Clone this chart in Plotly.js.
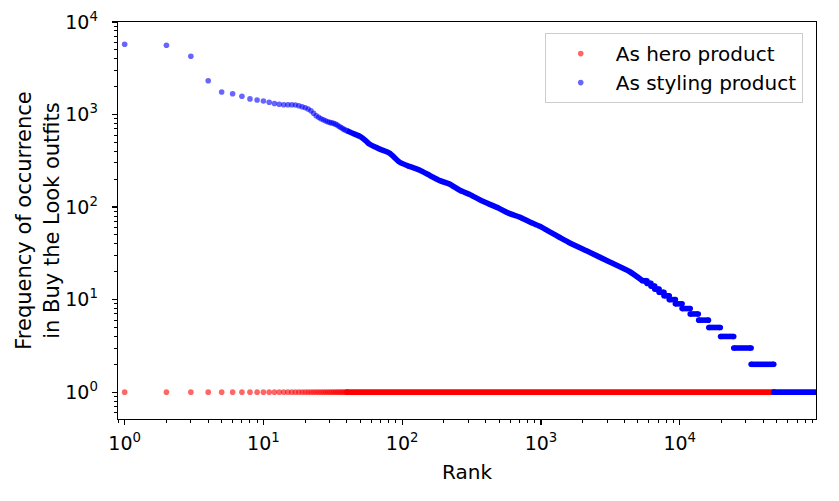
<!DOCTYPE html>
<html>
<head>
<meta charset="utf-8">
<script src="https://cdn.plot.ly/plotly-3.0.1.min.js"></script>
<style>html,body{margin:0;padding:0;background:#fff;}#chart{width:839px;height:501px;}</style>
</head>
<body>
<div id="chart"></div>
<script>
// ---- data ----
// As hero product: every product occurs once
const heroSparseRanks = [1,2,3,4,5,6,7,8,9,10,11,12,13,14,15,16,17,18,19,20,21,22,23,24,25,26,27,28,29,30,31,32,33,34,35,36,37,38,39,40];
const heroRunStart = 40;
const heroRunEnd = 47600;
const heroValue = 1;

// As styling product: first ranks (individually visible dots)
const styleSparseRanks = [1,2,3,4,5,6,7,8,9,10,11,12,13,14,15,16,17,18,19,20,21,22,23,24,25,26,27,28,29,30,31,32,33,34,35,36,37,38,39,40];
const styleSparseValues = [5750,5610,4270,2320,1755,1680,1575,1475,1435,1403,1356,1317,1290,1277,1277,1275,1268,1245,1215,1186,1149,1100,1031,971,933,901,879,858,836,823,812,803,787,770,748,727,709,691,680,668];

// As styling product: dense part of the curve
const styleCurveRanks = [40,43,46,50,55,58,69,81,96,113,134,158,187,220,260,307,362,428,505,596,703,831,981,1158,1367,1614,2240,3130,4370,5400];
const styleCurveValues = [668,636,611,578,517,480,423,383,305,275,250,220,193,177,152,137,120,107,96,85,78,69,62,54,47,41,32.5,25.5,20,16];

// As styling product: integer plateaus in the tail
const stepValues = [16,15,14,13,12,11,10,9,8,7,6,5,4,3,2,1];
const stepStart  = [5400,5800,6200,6600,7100,7700,8400,9300,10400,11900,13700,16200,19700,24500,32700,47600];
const stepEnd    = [5800,6200,6600,7100,7700,8400,9300,10400,11900,13600,16100,19600,24500,32700,47600,100000];

const xTickVals = [1,10,100,1000,10000];
const xTickText = ['10<sup>0</sup>','10<sup>1</sup>','10<sup>2</sup>','10<sup>3</sup>','10<sup>4</sup>'];
const yTickVals = [1,10,100,1000,10000];
const yTickText = ['10<sup>0</sup>','10<sup>1</sup>','10<sup>2</sup>','10<sup>3</sup>','10<sup>4</sup>'];

// ---- build traces ----
const MS = 5.6;
const RED_A = 'rgba(255,0,0,0.6)';
const BLUE_A = 'rgba(0,0,255,0.6)';

const heroSparse = {
  x: heroSparseRanks, y: heroSparseRanks.map(() => heroValue),
  type: 'scatter', mode: 'markers', name: 'As hero product',
  marker: {color: RED_A, size: MS}
};
const heroRun = {
  x: [heroRunStart, heroRunEnd], y: [heroValue, heroValue],
  type: 'scatter', mode: 'lines+markers', showlegend: false, hoverinfo: 'skip',
  line: {color: '#ff0000', width: MS}, marker: {color: '#ff0000', size: MS}
};
const styleSparse = {
  x: styleSparseRanks, y: styleSparseValues,
  type: 'scatter', mode: 'markers', name: 'As styling product',
  marker: {color: BLUE_A, size: MS}
};
const styleCurve = {
  x: styleCurveRanks, y: styleCurveValues,
  type: 'scatter', mode: 'lines', showlegend: false, hoverinfo: 'skip',
  line: {color: '#0000ff', width: MS, shape: 'spline', smoothing: 0.6}
};
const sx = [], sy = [];
stepValues.forEach((v, i) => {
  sx.push(stepStart[i], stepEnd[i], null);
  sy.push(v, v, null);
});
const styleSteps = {
  x: sx, y: sy, type: 'scatter', mode: 'lines+markers', showlegend: false, hoverinfo: 'skip',
  connectgaps: false,
  line: {color: '#0000ff', width: MS}, marker: {color: '#0000ff', size: MS}
};

const FONT = 'DejaVu Sans, sans-serif';
const axisCommon = {
  type: 'log', showgrid: false, zeroline: false,
  showline: true, linecolor: '#000', linewidth: 1.3, mirror: true,
  ticks: 'outside', ticklen: 5, tickwidth: 1.2, tickcolor: '#000',
  tickfont: {family: FONT, size: 19, color: '#000'},
  tickmode: 'array',
  minor: {ticks: 'outside', ticklen: 3, tickwidth: 1, tickcolor: '#000', dtick: 'D1', showgrid: false}
};

const layout = {
  width: 839, height: 501,
  margin: {l: 118, r: 23, t: 22, b: 82},
  paper_bgcolor: '#fff', plot_bgcolor: '#fff',
  font: {family: FONT, color: '#000'},
  showlegend: true,
  legend: {
    x: 0.981, y: 0.972, xanchor: 'right', yanchor: 'top',
    bgcolor: 'rgba(255,255,255,0.9)', bordercolor: '#cccccc', borderwidth: 1,
    font: {family: FONT, size: 20, color: '#000'},
    itemwidth: 60,
    tracegroupgap: 0
  },
  xaxis: Object.assign({}, axisCommon, {
    range: [-0.048, 4.982],
    tickvals: xTickVals, ticktext: xTickText,
    ticklabelstandoff: 2,
    title: {text: 'Rank', font: {family: FONT, size: 20, color: '#000'}, standoff: 12}
  }),
  yaxis: Object.assign({}, axisCommon, {
    range: [-0.29, 4.0],
    tickvals: yTickVals, ticktext: yTickText,
    ticklabelstandoff: 10,
    title: {text: 'Frequency of occurrence<br>in Buy the Look outfits', font: {family: FONT, size: 21, color: '#000'}, standoff: 0}
  })
};

Plotly.newPlot('chart', [heroSparse, heroRun, styleSparse, styleCurve, styleSteps], layout, {displayModeBar: false, staticPlot: true});
</script>
</body>
</html>
